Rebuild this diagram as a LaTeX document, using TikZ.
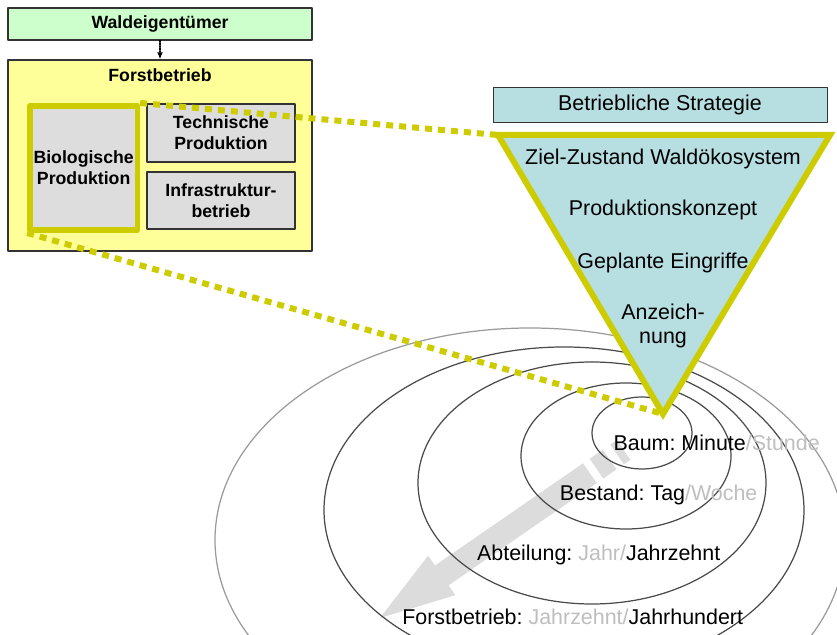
\documentclass[tikz,border=0pt]{standalone}
\usepackage{fontspec}
\setmainfont{Liberation Sans}
\usetikzlibrary{arrows.meta}
\definecolor{waldgreen}{HTML}{CCFFCC}
\definecolor{fbyellow}{HTML}{FFFF99}
\definecolor{boxgray}{HTML}{DDDDDD}
\definecolor{olivelink}{HTML}{CCCC00}
\definecolor{stratblue}{HTML}{B7DFE2}
\definecolor{ringgray}{HTML}{4A4A4A}
\definecolor{outergray}{HTML}{9A9A9A}
\definecolor{lblgray}{HTML}{BEBEBE}
\definecolor{arrowgray}{HTML}{DCDCDC}
\newcommand{\stratfont}{\fontsize{18.3}{21.3}\selectfont}
\newcommand{\orgfont}{\fontsize{15.1}{18}\selectfont\bfseries}
\frenchspacing

\begin{document}
\begin{tikzpicture}[line cap=round,line join=round,
  orgbox/.style={draw=black!80,line width=1pt,inner sep=0pt,font=\orgfont,align=center},
  ring/.style={draw=ringgray,line width=1.05pt},
  scalelbl/.style={anchor=base,inner sep=0pt,font=\stratfont},
  tritext/.style={anchor=base,inner sep=0pt,font=\stratfont,align=center},
  link/.style={draw=olivelink,line width=0.18cm,line cap=butt,dash pattern=on 0.21cm off 0.18cm}]
  \useasboundingbox (0,0) rectangle (25.11,19.02);
  \clip (0,0) rectangle (25.11,19.02);
  % grey arrow out of the rings
  \begin{scope}[shift={(11.40,0.48)},rotate=34.6]
    \fill[arrowgray] (0,0) -- (2.25,0.72) -- (2.25,0.36) -- (7.65,0.36) -- (7.65,-0.36)
      -- (2.25,-0.36) -- (2.25,-0.72) -- cycle;
    \fill[arrowgray] (7.89,-0.36) rectangle (8.37,0.36);
    \fill[arrowgray] (8.64,-0.36) rectangle (8.88,0.36);
  \end{scope}
  % rings
  \draw[ring,draw=outergray] (15.90,2.82) ellipse (9.45 and 6.36);
  \draw[ring] (16.92,3.72) ellipse (7.20 and 4.89);
  \draw[ring] (17.76,4.53) ellipse (5.22 and 3.63);
  \draw[ring] (18.78,5.34) ellipse (3.15 and 2.19);
  \draw[ring] (19.26,6.03) ellipse (1.50 and 1.08);
  \node[scalelbl] (zbaum) at (21.50,5.49) {Baum: Minute\textcolor{lblgray}{/Stunde}};
  \node[scalelbl] (zbestand) at (19.76,4.00) {Bestand: Tag\textcolor{lblgray}{/Woche}};
  \node[scalelbl] (zabt) at (17.96,2.20) {Abteilung: \textcolor{lblgray}{Jahr/}Jahrzehnt};
  \node[scalelbl] (zfstb) at (17.18,0.28) {Forstbetrieb: \textcolor{lblgray}{Jahrzehnt/}Jahrhundert};
  % strategy
  \node[draw=black!80,fill=stratblue,line width=0.8pt,minimum width=10.02cm,minimum height=1.05cm,
    inner sep=0pt,font=\stratfont] (strat) at (19.80,15.885) {Betriebliche Strategie};
  \coordinate (tl) at (14.94,14.97);
  \coordinate (tr) at (24.90,14.97);
  \coordinate (tip) at (19.89,6.60);
  \draw[draw=olivelink,fill=stratblue,line width=0.18cm,line join=miter] (tl) -- (tr) -- (tip) -- cycle;
  \node[tritext] (ziel) at (19.89,14.09) {Ziel-Zustand Waldökosystem};
  \node[tritext] (konzept) at (19.89,12.55) {Produktionskonzept};
  \node[tritext] (eingriffe) at (19.89,10.96) {Geplante Eingriffe};
  \node[tritext] (anzeich) at (19.89,8.70) {Anzeich-\\nung};
  % organisation
  \node[orgbox,fill=waldgreen,minimum width=9.12cm,minimum height=0.96cm] (wald) at (4.80,18.30) {Waldeigentümer};
  \node[orgbox,fill=fbyellow,minimum width=9.12cm,minimum height=5.73cm] (fstb) at (4.80,14.355) {};
  \node[font=\orgfont,inner sep=0pt] (fstbtitle) at (4.80,16.77) {Forstbetrieb};
  \draw[densely dotted,line width=1.2pt,-{Latex[length=6pt,width=5pt]}] (wald) -- (fstb);
  \node[orgbox,fill=boxgray,minimum width=4.44cm,minimum height=1.74cm] (tech) at (6.63,15.03) {Technische\\Produktion};
  \node[orgbox,fill=boxgray,minimum width=4.44cm,minimum height=1.71cm] (infra) at (6.63,13.005) {Infrastruktur-\\betrieb};
  \node[orgbox,draw=olivelink,fill=boxgray,line width=0.17cm,minimum width=3.22cm,minimum height=3.73cm] (bio)
    at (2.51,13.98) {Biologische\\Produktion};
  \draw[link] (bio.north east) -- (tl);
  \draw[link] (bio.south west) -- (tip);
\end{tikzpicture}
\end{document}
